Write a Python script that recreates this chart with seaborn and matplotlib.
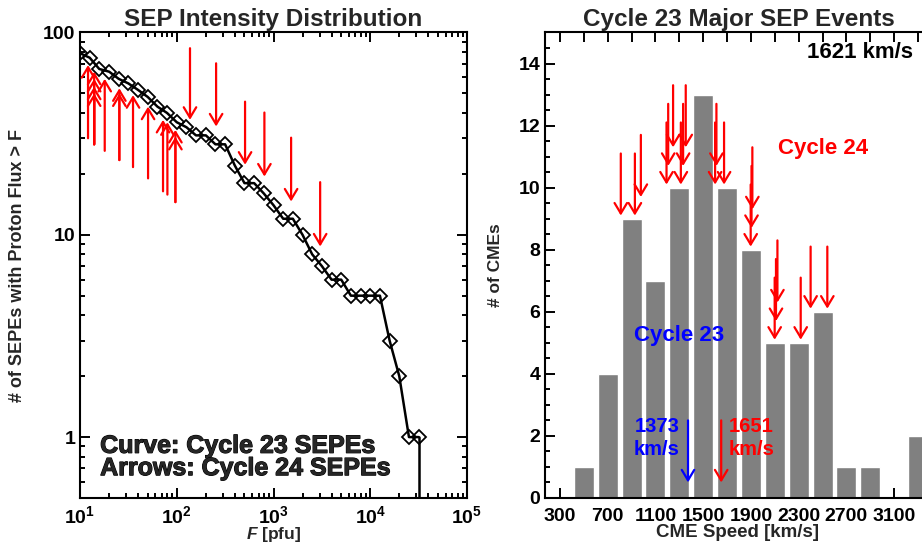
import numpy as np
import pandas as pd
import matplotlib
matplotlib.use('Agg')
import matplotlib.pyplot as plt
import matplotlib.patheffects as pe
import seaborn as sns
from matplotlib.ticker import LogLocator, FixedLocator, MultipleLocator, NullFormatter, FuncFormatter

# left panel: number of cycle 23 SEPEs with peak proton flux > F
flux = [10.0, 12.6, 15.8, 20.0, 25.1, 31.6, 39.8, 50.1, 63.1, 79.4,
        100, 126, 158, 200, 251, 316, 398, 501, 631, 794,
        1000, 1259, 1585, 1995, 2512, 3162, 3981, 5012, 6310, 7943,
        10000, 12589, 15849, 19953, 25119, 31623]
n_sepe = [79, 75, 66, 64, 59, 56, 52, 48, 43, 40,
          36, 34, 31, 31, 28, 28, 22, 18, 18, 16,
          14, 12, 12, 10, 8, 7, 6, 6, 5, 5,
          5, 5, 3, 2, 1, 1]

# cycle 24 SEPEs (arrows) below the curve, pointing up
up_flux = [12.1, 14.0, 14.0, 14.0, 14.0, 18.0, 25.5, 25.5, 35.3, 50.5, 72.1, 80.0, 96.8, 96.8]
up_head = [69, 64, 59, 54, 50, 59, 53, 50, 49, 43, 37, 36, 33, 30.5]
up_tail = [30, 28, 28, 28, 28, 26, 23.4, 23.4, 21.6, 19, 16.4, 15.8, 14.5, 14.5]
# cycle 24 SEPEs above the curve, pointing down
down_flux = [137, 255, 508, 805, 1520, 3035]
down_top = [83.6, 70.4, 45.5, 40.2, 30.2, 18.2]
down_tip = [37.0, 34.3, 22.2, 19.4, 14.6, 8.75]

# right panel: CME speed histogram of cycle 23 major SEP events
speed_bins = [500, 700, 900, 1100, 1300, 1500, 1700, 1900, 2100, 2300, 2500, 2700, 2900, 3100, 3300]
n_cme = [1, 4, 9, 7, 10, 13, 10, 8, 5, 5, 6, 1, 1, 0, 2]

# cycle 24 CME speeds (red arrows) and where the arrow heads end
c24_speed = [810, 928, 978, 1193, 1207, 1248, 1313, 1332, 1354, 1600, 1611, 1675,
             1898, 1905, 1912, 2099, 2110, 2122, 2317, 2400, 2540]
c24_tip = [9.1, 9.1, 9.7, 10.1, 10.7, 11.3, 10.1, 10.7, 11.3, 10.1, 10.7, 10.1,
           8.1, 8.7, 9.3, 5.1, 5.7, 6.3, 5.1, 6.1, 6.1]
arrow_len = 2.0

c23_mean = 1373
c24_mean = 1651
mean_top, mean_tip = 2.5, 0.5

sns.set_theme(style='ticks')
plt.rcParams['font.family'] = ['Liberation Sans', 'DejaVu Sans']
plt.rcParams['font.weight'] = 'bold'
plt.rcParams['axes.labelweight'] = 'bold'
plt.rcParams['axes.titleweight'] = 'bold'
plt.rcParams['mathtext.fontset'] = 'custom'
plt.rcParams['mathtext.rm'] = 'Liberation Sans:bold'
plt.rcParams['mathtext.bf'] = 'Liberation Sans:bold'
plt.rcParams['mathtext.it'] = 'Liberation Sans:italic:bold'

ARROW = '->,head_length=0.5,head_width=0.3'
heavy = [pe.withStroke(linewidth=0.8, foreground='black')]


def arrow(ax, x, y_from, y_to, color):
    ax.annotate('', xy=(x, y_to), xytext=(x, y_from),
                arrowprops=dict(arrowstyle=ARROW, color=color, lw=1.6,
                                shrinkA=0, shrinkB=0, mutation_scale=15))


fig = plt.figure(figsize=(9.22, 5.44), dpi=100)
ax1 = fig.add_axes([0.0868, 0.0846, 0.4197, 0.8557])
ax2 = fig.add_axes([0.5911, 0.0846, 0.4208, 0.8557])

# ---------- left panel ----------
left_df = pd.DataFrame({'flux': flux, 'n': n_sepe})
sns.lineplot(data=left_df, x='flux', y='n', ax=ax1, color='black', lw=1.8,
             marker='D', markersize=6.8, markerfacecolor='none',
             markeredgecolor='black', markeredgewidth=1.3)
# curve drops to zero after the last point
ax1.plot([flux[-1], flux[-1]], [n_sepe[-1], 0.3], color='black', lw=1.8)
ax1.set_xscale('log')
ax1.set_yscale('log')
ax1.set_xlim(10, 1e5)
ax1.set_ylim(0.5, 100)

for x, h, t in zip(up_flux, up_head, up_tail):
    arrow(ax1, x, t, h, 'red')
for x, t, h in zip(down_flux, down_top, down_tip):
    arrow(ax1, x, t, h, 'red')

ax1.xaxis.set_major_locator(LogLocator(base=10, numticks=10))
ax1.xaxis.set_minor_locator(LogLocator(base=10, subs=np.arange(2, 10), numticks=20))
ax1.xaxis.set_major_formatter(FuncFormatter(lambda v, p: r'$\mathbf{10^{%d}}$' % round(np.log10(v))))
ax1.xaxis.set_minor_formatter(NullFormatter())
ax1.yaxis.set_major_locator(FixedLocator([1, 10, 100]))
ax1.yaxis.set_major_formatter(FuncFormatter(lambda v, p: '%d' % v))
ax1.yaxis.set_minor_locator(LogLocator(base=10, subs=np.arange(2, 10), numticks=20))
ax1.yaxis.set_minor_formatter(NullFormatter())
ax1.tick_params(which='both', direction='in', top=True, right=True, width=1.4,
                labelsize=14, colors='black')
ax1.tick_params(which='major', length=7)
ax1.tick_params(which='minor', length=3.5)
ax1.tick_params(axis='x', pad=5)
ax1.tick_params(axis='y', pad=3.5)

ax1.set_title('SEP Intensity Distribution', fontsize=17.5, pad=5)
ax1.set_xlabel(r'$\mathit{F}$ [pfu]', fontsize=12.5, va='top')
ax1.xaxis.set_label_coords(0.5, -0.059)
ax1.set_ylabel('# of SEPEs with Proton Flux > F', fontsize=13)
ax1.yaxis.set_label_coords(-0.140, 0.5)

ax1.text(0.052, 0.097, 'Curve: Cycle 23 SEPEs', transform=ax1.transAxes,
         fontsize=18, fontweight='bold', va='baseline', path_effects=heavy)
ax1.text(0.052, 0.049, 'Arrows: Cycle 24 SEPEs', transform=ax1.transAxes,
         fontsize=18, fontweight='bold', va='baseline', path_effects=heavy)

# ---------- right panel ----------
right_df = pd.DataFrame({'speed': speed_bins, 'count': n_cme})
sns.barplot(data=right_df, x='speed', y='count', ax=ax2, native_scale=True,
            width=0.84, color='#808080', saturation=1, errorbar=None)
ax2.set_xlim(175, 3425)
ax2.set_ylim(0, 15)

for x, tip in zip(c24_speed, c24_tip):
    arrow(ax2, x, tip + arrow_len, tip, 'red')
arrow(ax2, c23_mean, mean_top, mean_tip, 'blue')
arrow(ax2, c24_mean, mean_top, mean_tip, 'red')

ax2.xaxis.set_major_locator(FixedLocator(np.arange(300, 3500, 400)))
ax2.xaxis.set_minor_locator(FixedLocator(np.arange(500, 3500, 400)))
ax2.xaxis.set_major_formatter(FuncFormatter(lambda v, p: '%d' % v))
ax2.yaxis.set_major_locator(MultipleLocator(2))
ax2.yaxis.set_minor_locator(MultipleLocator(0.5))
ax2.yaxis.set_major_formatter(FuncFormatter(lambda v, p: '%d' % v))
ax2.tick_params(which='both', direction='in', top=True, right=False, width=1.4,
                labelsize=14, colors='black')
ax2.tick_params(which='major', length=7)
ax2.tick_params(which='minor', length=3.5)
ax2.tick_params(axis='x', which='minor', length=7)
ax2.tick_params(axis='x', pad=7)
ax2.tick_params(axis='y', pad=3.5)

ax2.set_title('Cycle 23 Major SEP Events', fontsize=17.5, pad=5)
ax2.set_xlabel('CME Speed [km/s]', fontsize=13.5, va='top')
ax2.xaxis.set_label_coords(0.497, -0.056)
ax2.set_ylabel('# of CMEs', fontsize=12.5)
ax2.yaxis.set_label_coords(-0.108, 0.5)

ax2.text(3254, 14.17, '1621 km/s', color='black', fontsize=16, ha='right', va='baseline')
ax2.text(2124, 11.09, 'Cycle 24', color='red', fontsize=16, ha='left', va='baseline')
ax2.text(919, 5.06, 'Cycle 23', color='blue', fontsize=16, ha='left', va='baseline')
ax2.text(1304, 2.12, '1373', color='blue', fontsize=14.5, ha='right', va='baseline')
ax2.text(1304, 1.38, 'km/s', color='blue', fontsize=14.5, ha='right', va='baseline')
ax2.text(1714, 2.12, '1651', color='red', fontsize=14.5, ha='left', va='baseline')
ax2.text(1714, 1.38, 'km/s', color='red', fontsize=14.5, ha='left', va='baseline')

for ax in (ax1, ax2):
    for s in ax.spines.values():
        s.set_linewidth(1.5)
        s.set_color('black')

fig.savefig('out.png', dpi=100)
